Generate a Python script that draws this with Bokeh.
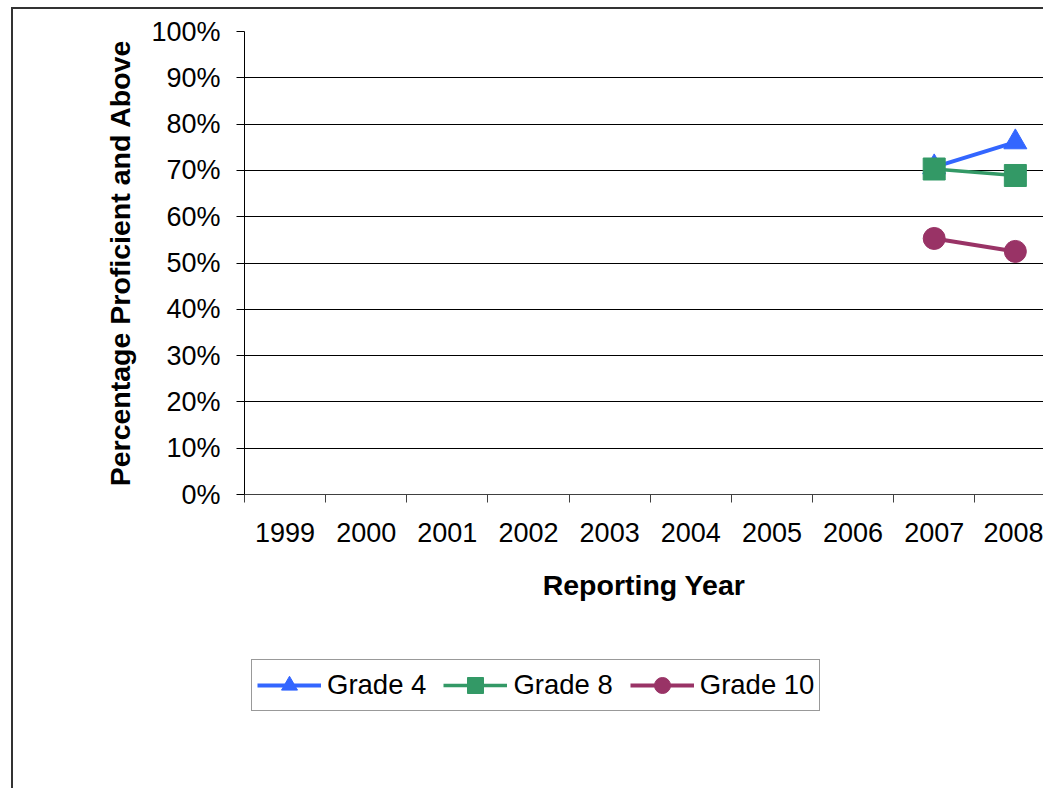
from bokeh.plotting import figure
from bokeh.layouts import column
from bokeh.models import (Range1d, FixedTicker, NumeralTickFormatter, Legend,
                          LegendItem)
from bokeh.embed import file_html
from bokeh.resources import INLINE

nan = float("nan")

# ---- data ----
years = [1999, 2000, 2001, 2002, 2003, 2004, 2005, 2006, 2007, 2008]
grade4 = [nan, nan, nan, nan, nan, nan, nan, nan, 0.707, 0.761]
grade8 = [nan, nan, nan, nan, nan, nan, nan, nan, 0.703, 0.689]
grade10 = [nan, nan, nan, nan, nan, nan, nan, nan, 0.553, 0.525]
series_names = ["Grade 4", "Grade 8", "Grade 10"]
y_ticks = [0.0, 0.1, 0.2, 0.3, 0.4, 0.5, 0.6, 0.7, 0.8, 0.9, 1.0]
category_edges = [1998.5, 1999.5, 2000.5, 2001.5, 2002.5, 2003.5,
                  2004.5, 2005.5, 2006.5, 2007.5, 2008.5]

FONT = "Liberation Sans"
W = 1043
H1, H2 = 640, 148
BORDER = "#333333"

# ---------------- main chart ----------------
p = figure(width=W, height=H1, output_backend="svg", toolbar_location=None,
           x_range=Range1d(1998.5, 2008.347), y_range=Range1d(0, 1),
           min_border_left=244, min_border_right=0, min_border_top=31,
           min_border_bottom=146)
p.outline_line_color = None
p.background_fill_color = "white"
p.border_fill_alpha = 0
p.styles = {"background-color": "white",
            "box-shadow": f"inset 11px 7px 0 0 white, inset 13px 9px 0 0 {BORDER}"}

p.xaxis.ticker = FixedTicker(ticks=years, minor_ticks=category_edges)
p.xaxis.major_label_overrides = {y: str(y) for y in years}
p.xaxis.major_tick_out = 0
p.xaxis.major_tick_in = 0
p.xaxis.minor_tick_out = 8
p.xaxis.minor_tick_in = 0
p.xaxis.minor_tick_line_color = "#404040"
p.xaxis.axis_line_color = "#404040"
p.xaxis.major_label_text_font = FONT
p.xaxis.major_label_text_font_size = "27px"
p.xaxis.major_label_text_color = "black"
p.xaxis.major_label_standoff = 20
p.xaxis.axis_label = "Reporting Year"
p.xaxis.axis_label_text_font = FONT
p.xaxis.axis_label_text_font_style = "bold"
p.xaxis.axis_label_text_font_size = "28.5px"
p.xaxis.axis_label_text_color = "black"
p.xaxis.axis_label_standoff = 24

p.yaxis.ticker = FixedTicker(ticks=y_ticks)
p.yaxis.formatter = NumeralTickFormatter(format="0%")
p.yaxis.major_tick_out = 8
p.yaxis.major_tick_in = 0
p.yaxis.minor_tick_line_color = None
p.yaxis.axis_line_color = "black"
p.yaxis.major_tick_line_color = "black"
p.yaxis.major_label_text_font = FONT
p.yaxis.major_label_text_font_size = "27px"
p.yaxis.major_label_text_color = "black"
p.yaxis.major_label_standoff = 16
p.yaxis.axis_label = "Percentage Proficient and Above"
p.yaxis.axis_label_text_font = FONT
p.yaxis.axis_label_text_font_style = "bold"
p.yaxis.axis_label_text_font_size = "28.5px"
p.yaxis.axis_label_text_color = "black"
p.yaxis.axis_label_standoff = 12

p.xgrid.visible = False
p.ygrid.grid_line_color = "black"
p.ygrid.grid_line_width = 1

styles = [
    dict(data=grade4, color="#3366FF", marker="triangle", size=23, lw=4),
    dict(data=grade8, color="#339966", marker="square", size=22, lw=3.5),
    dict(data=grade10, color="#993366", marker="circle", size=22, lw=4),
]
for s in styles:
    p.line(years, s["data"], line_color=s["color"], line_width=s["lw"])
    p.scatter(years, s["data"], marker=s["marker"], size=s["size"],
              fill_color=s["color"], line_color=s["color"])

# ---------------- legend strip ----------------
p2 = figure(width=W, height=H2, output_backend="svg", toolbar_location=None,
            x_axis_type=None, y_axis_type=None,
            x_range=Range1d(0, 1), y_range=Range1d(0, 1),
            min_border=0)
p2.outline_line_color = None
p2.background_fill_alpha = 0
p2.border_fill_alpha = 0
p2.grid.visible = False
p2.styles = {"background-color": "white",
             "box-shadow": f"inset 11px 0 0 0 white, inset 13px 0 0 0 {BORDER}"}

items = []
for name, s in zip(series_names, styles):
    # same series drawn in this strip only to provide the legend swatches
    lr = p2.line(years, s["data"], line_color=s["color"], line_width=s["lw"])
    sr = p2.scatter(years, s["data"], marker=s["marker"], size=s["size"],
                    fill_color=s["color"], line_color=s["color"])
    items.append(LegendItem(label=name, renderers=[lr, sr]))

legend = Legend(items=items, orientation="horizontal", location=(7, 77),
                glyph_width=64, glyph_height=40, label_standoff=6,
                spacing=17, padding=5, margin=0,
                label_text_font=FONT, label_text_font_size="27.5px",
                label_text_color="black",
                border_line_color=BORDER, border_line_width=1,
                background_fill_color="white", background_fill_alpha=1)
p2.add_layout(legend)

open("out.html", "w").write(file_html(column(p, p2, spacing=0), INLINE))
